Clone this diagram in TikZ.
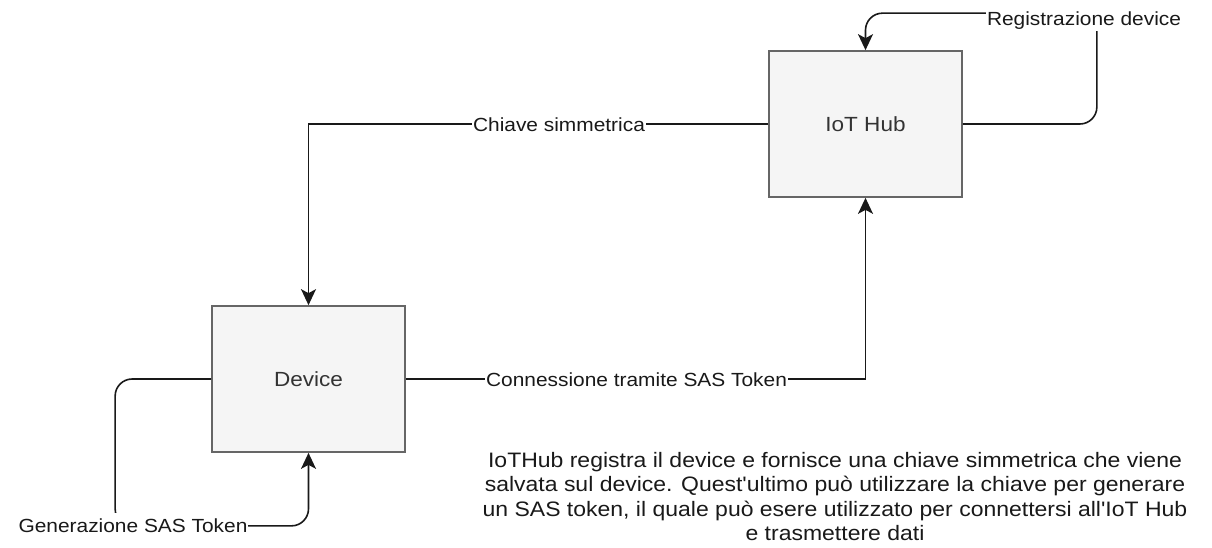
\documentclass[tikz,border=0pt]{standalone}
\usepackage{fontspec}
\usetikzlibrary{arrows.meta,calc}
\newfontfamily\labelfont[FakeStretch=1.1,Ligatures=TeXOff]{Liberation Sans}
\definecolor{boxfill}{HTML}{F5F5F5}
\definecolor{boxline}{HTML}{666666}
\definecolor{boxtext}{HTML}{333333}
\tikzset{
  block/.style={draw=boxline, fill=boxfill, line width=1.7pt,
    minimum width=193pt, minimum height=146pt, inner sep=0pt,
    text=boxtext, font=\labelfont\fontsize{20.5}{24}\selectfont},
  conn/.style={draw=black!90, line width=1.6pt,
    -{Stealth[length=16pt,width=15pt,inset=4pt]}},
  edgelabel/.style={fill=white, inner xsep=1pt, inner ysep=2pt, anchor=base,
    text=black!90, font=\labelfont\fontsize{19}{22}\selectfont},
  note/.style={align=center, inner sep=0pt, anchor=north, text=black!90,
    font=\labelfont\fontsize{20.9}{24.4}\selectfont}
}
\begin{document}
\begin{tikzpicture}[x=1pt,y=-1pt]
  \useasboundingbox (0,0) rectangle (1212,547);

  % the two components
  \node[block] (hub) at (865.5,124) {IoT Hub};
  \node[block] (dev) at (308.5,379) {Device};

  % connectors
  \draw[conn] (hub.west) -| (dev.north);
  \draw[conn] (dev.east) -| (hub.south);
  \draw[conn, rounded corners=17pt]
    (hub.east) -- ++(134,0) |- ($(hub.north)+(0,-37)$) -- (hub.north);
  \draw[conn, rounded corners=17pt]
    (dev.west) -- ++(-96,0) |- ($(dev.south)+(0,73)$) -- (dev.south);

  % connector labels
  \node[edgelabel] (lchiave) at (559,131) {Chiave simmetrica};
  \node[edgelabel] (lconn) at (636.5,386) {Connessione tramite SAS Token};
  \node[edgelabel] (lreg) at (1084,25) {Registrazione device};
  \node[edgelabel, inner ysep=5pt] (lgen) at (133,532) {Generazione SAS Token};

  % description
  \node[note] (desc) at (835,452) {IoTHub registra il device e fornisce una chiave simmetrica che viene\\
    salvata sul device. Quest'ultimo può utilizzare la chiave per generare\\
    un SAS token, il quale può esere utilizzato per connettersi all'IoT Hub\\
    e trasmettere dati};
\end{tikzpicture}
\end{document}
